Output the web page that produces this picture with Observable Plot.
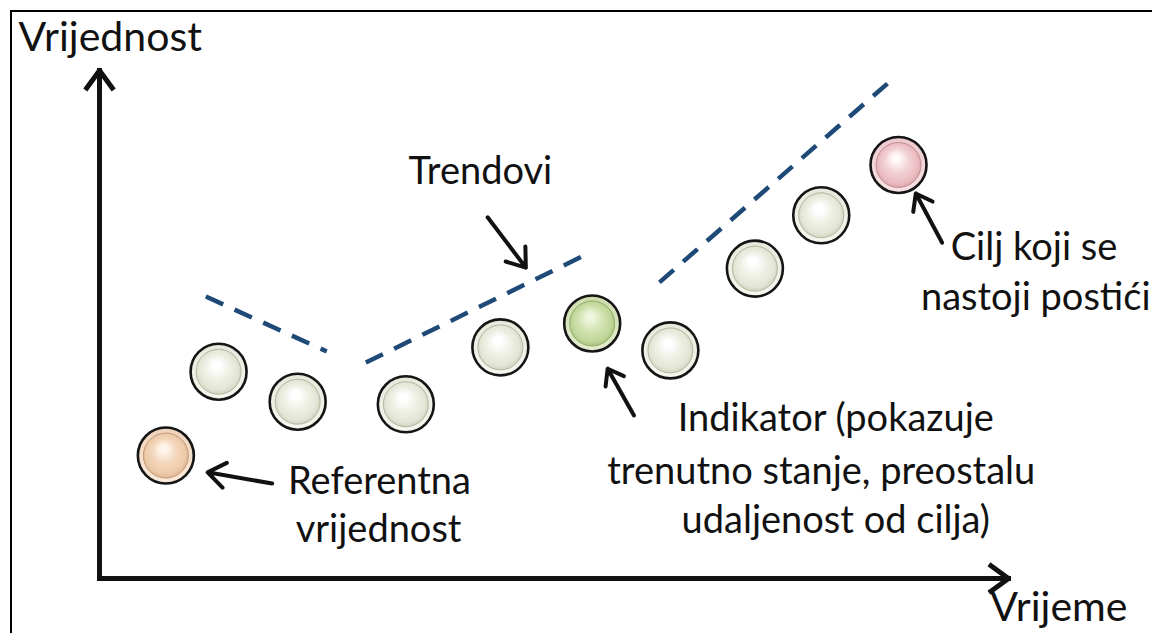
<!DOCTYPE html>
<html><head><meta charset="utf-8">
<script src="https://cdn.jsdelivr.net/npm/d3@7"></script>
<script src="https://cdn.jsdelivr.net/npm/@observablehq/plot@0.6"></script>
<style>
body{margin:0;background:#fff;}
#wrap{position:relative;width:1152px;height:633px;overflow:hidden;background:#fff;}
#wrap svg{position:absolute;left:0;top:0;}
#frame{position:absolute;left:10px;top:10px;width:1300px;height:800px;border-left:2px solid #000;border-top:2px solid #000;pointer-events:none;z-index:2;}
</style></head>
<body><div id="wrap"></div>
<script>
// Measured points (time, value) and their role
const pointTime  = [7.3, 13.1, 21.8, 33.7, 44.1, 54.2, 62.8, 72.1, 79.4, 87.9];
const pointValue = [24.2, 40.7, 34.8, 34.3, 45.5, 50.2, 44.9, 61.0, 71.5, 81.4];
const pointKind  = ["ref", "obs", "obs", "obs", "obs", "ind", "obs", "obs", "obs", "goal"];

// Dashed trend segments
const trendStartTime  = [11.7, 29.3, 61.6];
const trendStartValue = [55.5, 42.5, 58.3];
const trendEndTime    = [25.0, 53.1, 86.8];
const trendEndValue   = [44.7, 63.4, 97.6];

// Axis arrows
const axisFromTime  = [0, 0];
const axisFromValue = [0, 0];
const axisToTime    = [0, 100];
const axisToValue   = [100, 0];

// Annotation arrows
const noteFromTime  = [19.0, 42.7, 58.8, 92.7];
const noteFromValue = [18.7, 71.1, 32.1, 66.1];
const noteToTime    = [11.9, 46.9, 55.9, 89.8];
const noteToValue   = [20.9, 61.2, 41.3, 75.8];

// Axis titles
const axisTitleText  = ["Vrijednost", "Vrijeme"];
const axisTitleTime  = [-8.9, 98.0];
const axisTitleValue = [103.9, -8.4];

// Annotation texts
const noteText  = ["Trendovi", "Referentna", "vrijednost", "Indikator (pokazuje", "trenutno stanje, preostalu", "udaljenost od cilja)", "Cilj koji se", "nastoji postići"];
const noteTime  = [41.9, 30.8, 30.7, 81.0, 79.4, 81.0, 102.8, 103.0];
const noteValue = [77.6, 16.7, 7.1, 29.1, 18.7, 8.9, 62.6, 52.8];

const points = pointTime.map((t, i) => ({t, v: pointValue[i], kind: pointKind[i]}));
const trends = trendStartTime.map((t, i) => ({x1: t, y1: trendStartValue[i], x2: trendEndTime[i], y2: trendEndValue[i]}));
const axes = axisFromTime.map((t, i) => ({x1: t, y1: axisFromValue[i], x2: axisToTime[i], y2: axisToValue[i]}));
const notes = noteFromTime.map((t, i) => ({x1: t, y1: noteFromValue[i], x2: noteToTime[i], y2: noteToValue[i]}));
const axisTitles = axisTitleText.map((s, i) => ({s, t: axisTitleTime[i], v: axisTitleValue[i]}));
const noteLabels = noteText.map((s, i) => ({s, t: noteTime[i], v: noteValue[i]}));

const kinds = ["ref", "obs", "ind", "goal"];
const palette = {
  ref:  {ringTop: "#efd3bb", ringBot: "#fbeadb", hi: "#fff4ea", mid: "#f3d6bb", base: "#eccaa9", edge: "#d9ab86", line: "#c49a78"},
  obs:  {ringTop: "#e6e9da", ringBot: "#f6f7ef", hi: "#ffffff", mid: "#eef0e5", base: "#e3e6d5", edge: "#c5cab3", line: "#b3b8a2"},
  ind:  {ringTop: "#cddcac", ringBot: "#e4edcf", hi: "#eef5de", mid: "#d2e2b0", base: "#c1d699", edge: "#9fb874", line: "#93ad6a"},
  goal: {ringTop: "#eccace", ringBot: "#f8e2e4", hi: "#fff8f8", mid: "#f2d0d4", base: "#ebbcc2", edge: "#d59ba3", line: "#c48d95"}
};

const pointMarks = kinds.flatMap(k => {
  const data = points.filter(d => d.kind === k);
  return [
    Plot.dot(data, {x: "t", y: "v", r: 28, fill: `url(#ring-${k})`, stroke: "#151515", strokeWidth: 2.6}),
    Plot.dot(data, {x: "t", y: "v", r: 22.5, fill: `url(#ball-${k})`, stroke: palette[k].line, strokeWidth: 1})
  ];
});

const svg = Plot.plot({
  width: 1152,
  height: 633,
  marginLeft: 99,
  marginRight: 144,
  marginTop: 70,
  marginBottom: 55,
  x: {domain: [0, 100], axis: null},
  y: {domain: [0, 100], axis: null},
  style: {background: "transparent", fontFamily: "Lato, 'Open Sans', sans-serif", overflow: "visible"},
  marks: [
    Plot.arrow(axes, {x1: "x1", y1: "y1", x2: "x2", y2: "y2", stroke: "#111", strokeWidth: 5, headLength: 6.5, headAngle: 72, strokeLinecap: "square", strokeLinejoin: "round"}),
    Plot.link(trends, {x1: "x1", y1: "y1", x2: "x2", y2: "y2", stroke: "#1f4a78", strokeWidth: 4.5, strokeDasharray: "19,12.5"}),
    ...pointMarks,
    Plot.arrow(notes, {x1: "x1", y1: "y1", x2: "x2", y2: "y2", stroke: "#111", strokeWidth: 4, headLength: 8, headAngle: 72, strokeLinecap: "round", strokeLinejoin: "round"}),
    Plot.text(axisTitles, {x: "t", y: "v", text: "s", textAnchor: "start", lineAnchor: "bottom", fontSize: 41, fill: "#111"}),
    Plot.text(noteLabels, {x: "t", y: "v", text: "s", textAnchor: "middle", lineAnchor: "bottom", fontSize: 38, fill: "#111"})
  ]
});

// gradient definitions for the glossy discs
const defs = d3.select(svg).insert("defs", ":first-child");
for (const k of kinds) {
  const p = palette[k];
  const ring = defs.append("linearGradient").attr("id", `ring-${k}`).attr("x1", 0).attr("y1", 0).attr("x2", 0).attr("y2", 1);
  ring.append("stop").attr("offset", "0%").attr("stop-color", p.ringTop);
  ring.append("stop").attr("offset", "100%").attr("stop-color", p.ringBot);
  const ball = defs.append("radialGradient").attr("id", `ball-${k}`)
    .attr("cx", "50%").attr("cy", "50%").attr("r", "55%").attr("fx", "44%").attr("fy", "32%");
  ball.append("stop").attr("offset", "0%").attr("stop-color", p.hi);
  ball.append("stop").attr("offset", "15%").attr("stop-color", p.hi);
  ball.append("stop").attr("offset", "50%").attr("stop-color", p.mid);
  ball.append("stop").attr("offset", "80%").attr("stop-color", p.base);
  ball.append("stop").attr("offset", "100%").attr("stop-color", p.edge);
}

const wrap = document.getElementById("wrap");
wrap.appendChild(svg);
const frame = document.createElement("div");
frame.id = "frame";
wrap.appendChild(frame);
</script>
</body></html>
